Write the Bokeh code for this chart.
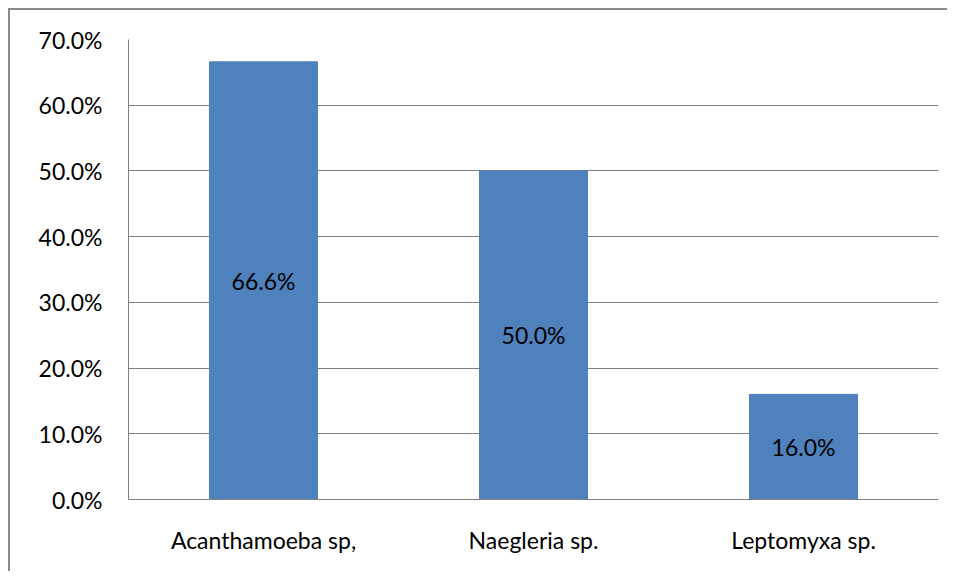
from bokeh.plotting import figure
from bokeh.models import ColumnDataSource, LabelSet, NumeralTickFormatter, FixedTicker, Range1d
from bokeh.core.properties import value
from bokeh.embed import file_html
from bokeh.resources import INLINE

categories = ["Acanthamoeba sp,", "Naegleria sp.", "Leptomyxa sp."]
values = [0.666, 0.500, 0.160]
value_labels = ["66.6%", "50.0%", "16.0%"]
y_ticks = [0.0, 0.1, 0.2, 0.3, 0.4, 0.5, 0.6, 0.7]

FONT = "Lato"
GRID = "#808080"
FS = "23px"

src = ColumnDataSource(dict(
    cat=categories,
    val=values,
    mid=[v / 2 for v in values],
    lab=value_labels,
))

p = figure(
    x_range=categories,
    y_range=Range1d(0, 0.7),
    frame_width=810, frame_height=460,
    min_border_left=118, min_border_top=29, min_border_right=9, min_border_bottom=72,
    output_backend="svg", toolbar_location=None,
)
p.styles = {"border-left": "2px solid #8a8a8a", "border-top": "2px solid #8a8a8a",
            "margin-left": "8px", "margin-top": "8px"}

p.vbar(x="cat", top="val", width=0.4, source=src, fill_color="#4F81BD", line_color="#4F81BD")

labels = LabelSet(x="cat", y="mid", text="lab", source=src,
                  text_align="center", text_baseline="middle",
                  text_font=value(FONT), text_font_size=value(FS), text_color=value("black"))
p.add_layout(labels)

p.outline_line_color = None
p.xgrid.grid_line_color = None
p.ygrid.grid_line_color = GRID
p.ygrid.grid_line_width = 1

p.yaxis.ticker = FixedTicker(ticks=y_ticks)
p.yaxis.formatter = NumeralTickFormatter(format="0.0%")
for ax in (p.xaxis, p.yaxis):
    ax.axis_line_color = GRID
    ax.major_tick_line_color = None
    ax.minor_tick_line_color = None
    ax.major_tick_out = 0
    ax.major_tick_in = 0
    ax.major_label_text_font = FONT
    ax.major_label_text_font_size = FS
    ax.major_label_text_color = "black"
p.yaxis.major_label_standoff = 26
p.xaxis.major_label_standoff = 26

open("out.html", "w").write(file_html(p, INLINE))
